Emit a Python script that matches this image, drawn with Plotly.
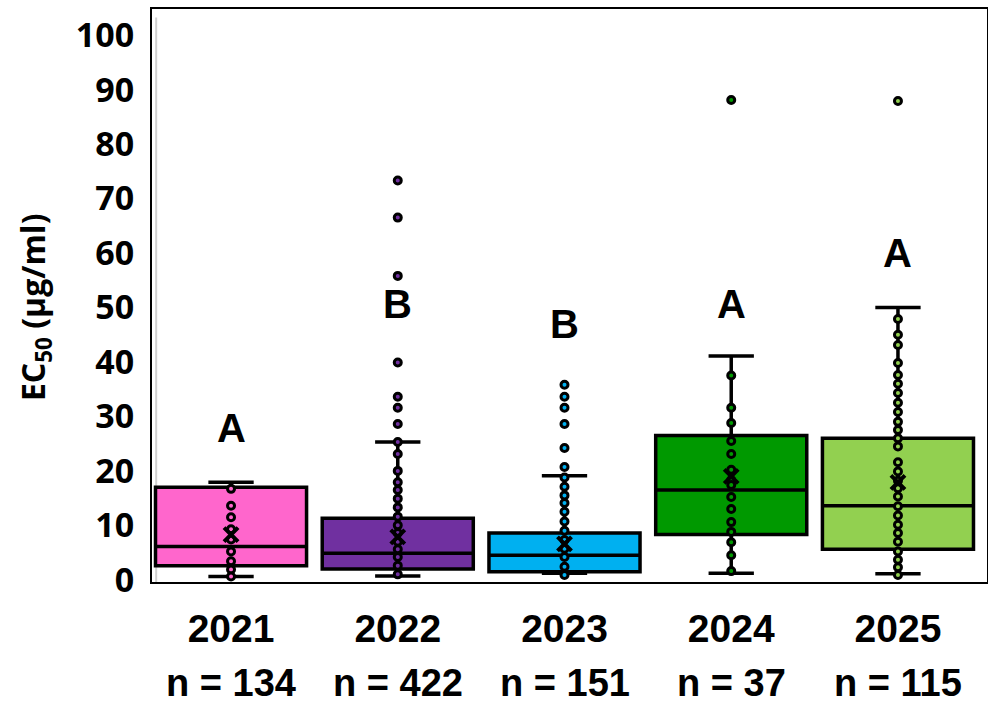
import plotly.graph_objects as go

years = ["2021", "2022", "2023", "2024", "2025"]
n_counts = [134, 422, 151, 37, 115]
colors = ["#FF66CC", "#7030A0", "#00B0F0", "#009900", "#92D050"]

q1 = [2.6, 2.0, 1.5, 8.3, 5.6]
median = [6.1, 4.9, 4.5, 16.5, 13.6]
q3 = [17.0, 11.3, 8.6, 26.5, 26.0]
lower_whisker = [0.6, 0.7, 1.2, 1.2, 1.1]
upper_whisker = [17.9, 25.3, 19.1, 41.1, 50.0]
means = [8.3, 7.9, 6.6, 19.0, 17.9]

pts_2021 = [16.7, 13.6, 11.5, 9.3, 7.4, 5.2, 3.4, 1.9, 0.6]
pts_2022 = [73.3, 66.5, 55.8, 39.9, 33.6, 31.6, 28.6, 25.3, 23.1, 20.0, 17.9, 16.5,
            14.9, 13.3, 11.6, 10.0, 8.6, 7.0, 5.6, 4.2, 2.6, 1.0]
pts_2023 = [35.8, 33.6, 31.6, 28.6, 24.2, 20.7, 18.8, 17.1, 15.5, 14.1, 12.5, 10.7,
            9.0, 7.3, 5.7, 4.2, 2.4, 0.9]
pts_2024 = [88.1, 37.5, 31.6, 28.8, 25.5, 23.1, 20.2, 18.3, 17.4, 15.2, 13.0, 10.6,
            8.8, 6.9, 4.5, 1.6]
pts_2025 = [87.9, 47.9, 45.0, 43.1, 39.8, 37.6, 36.0, 34.3, 32.5, 30.8, 29.0, 27.5,
            26.0, 24.5, 21.6, 19.9, 18.2, 16.8, 15.3, 13.5, 11.8, 10.1, 8.6, 7.0,
            5.2, 3.7, 2.3, 0.9]
points = [pts_2021, pts_2022, pts_2023, pts_2024, pts_2025]

letters = ["A", "B", "B", "A", "A"]
letter_y = [27.9, 50.6, 47.0, 50.6, 60.0]

y_ticks = list(range(0, 101, 10))

fig = go.Figure()

for i in range(len(years)):
    fig.add_trace(go.Box(
        x=[i], q1=[q1[i]], median=[median[i]], q3=[q3[i]],
        lowerfence=[lower_whisker[i]], upperfence=[upper_whisker[i]],
        fillcolor=colors[i], line=dict(color="black", width=3.5),
        width=0.906, whiskerwidth=0.3, boxpoints=False,
        showlegend=False, hoverinfo="skip",
    ))

for i in range(len(years)):
    fig.add_trace(go.Scatter(
        x=[i] * len(points[i]), y=points[i], mode="markers",
        marker=dict(size=7, color=colors[i], line=dict(color="black", width=3)),
        showlegend=False, hoverinfo="skip",
    ))

fig.add_trace(go.Scatter(
    x=list(range(len(years))), y=means, mode="markers",
    marker=dict(symbol="x-thin", size=14, line=dict(color="black", width=4), color="black"),
    showlegend=False, hoverinfo="skip",
))

for i in range(len(years)):
    fig.add_annotation(x=i, y=letter_y[i], text=f"<b>{letters[i]}</b>", showarrow=False,
                       xanchor="center", yanchor="middle",
                       font=dict(family="Liberation Sans, Arial", size=40, color="black"))
    fig.add_annotation(x=i, xref="x", yref="paper", y=-0.177, text=f"<b>n = {n_counts[i]}</b>",
                       showarrow=False, xanchor="center", yanchor="middle",
                       font=dict(family="Liberation Sans, Arial", size=38, color="black"))

fig.add_annotation(xref="paper", yref="paper", x=-0.140, y=0.48,
                   text="<b>EC<sub>50</sub> (µg/ml)</b>", textangle=-90, showarrow=False,
                   xanchor="center", yanchor="middle",
                   font=dict(family="Open Sans", size=32, color="black"))

# thin grey inner line along the left edge of the plot frame
fig.add_shape(type="line", xref="paper", yref="paper", x0=0.005, x1=0.005, y0=0.0, y1=0.985,
              line=dict(color="#D0D0D0", width=2), layer="below")

fig.update_layout(
    width=988, height=704,
    margin=dict(l=152, r=1, t=9, b=122),
    plot_bgcolor="white", paper_bgcolor="white",
    boxmode="overlay",
)
fig.update_xaxes(
    range=[-0.474, 4.534], tickmode="array", tickvals=list(range(len(years))),
    ticktext=[f"<b>{y}</b>" for y in years],
    tickfont=dict(family="Liberation Sans, Arial", size=39, color="black"),
    showgrid=False, zeroline=False, showline=True, linecolor="black", linewidth=2,
    mirror=True, ticks="", ticklabelstandoff=11, automargin=False,
)
fig.update_yaxes(
    range=[-0.4, 104.8], tickmode="array", tickvals=y_ticks,
    ticktext=[f"<b>{t}</b>" for t in y_ticks],
    tickfont=dict(family="Open Sans", size=34, color="black"),
    showgrid=False, zeroline=False, showline=True, linecolor="black", linewidth=2,
    mirror=True, ticks="", ticklabelstandoff=9, automargin=False,
)

fig.write_html("out.html", config={"displayModeBar": False},
               post_script="document.body.style.margin='0';document.body.style.overflow='hidden';")
